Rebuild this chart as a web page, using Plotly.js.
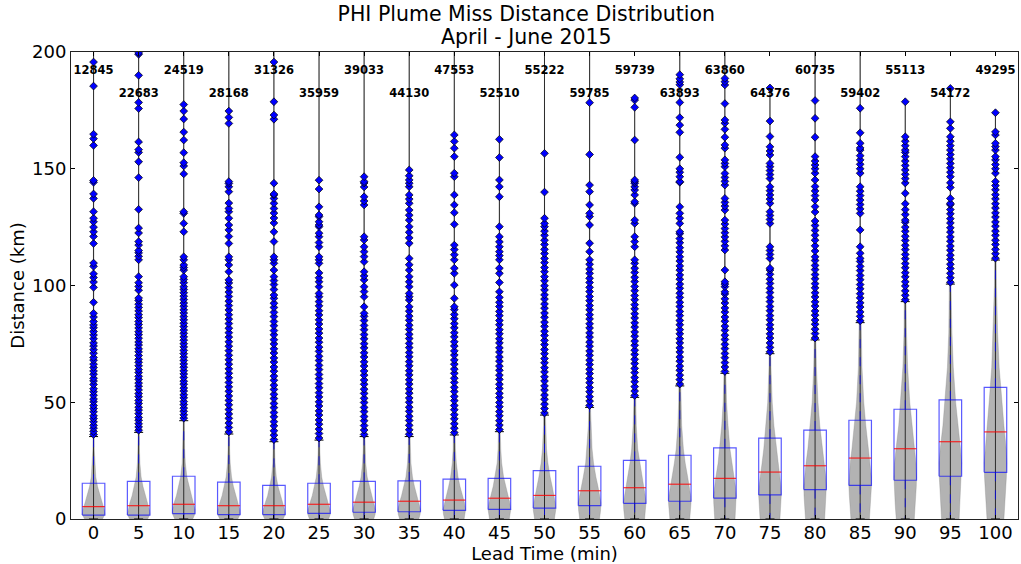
<!DOCTYPE html>
<html><head><meta charset="utf-8">
<script src="https://cdn.plot.ly/plotly-3.0.1.min.js"></script>
<style>html,body{margin:0;padding:0;background:#fff;}#chart{width:1021px;height:564px;}</style>
</head><body><div id="chart"></div>
<script>
// ---------------- DATA ----------------
const leadTimes = [0,5,10,15,20,25,30,35,40,45,50,55,60,65,70,75,80,85,90,95,100];
const sampleCounts = [12845,22683,24519,28168,31326,35959,39033,44130,47553,52510,55222,59785,59739,63893,63860,64376,60735,59402,55113,54172,49295];
const q1Values     = [1.7,1.7,2.3,1.9,1.9,2.4,2.9,3.1,3.7,4.1,4.7,5.7,6.7,7.6,8.9,10.3,12.6,14.4,16.6,18.3,20.0];
const medianValues = [5.3,5.7,6.3,5.7,5.7,6.3,7.2,7.6,8.1,8.9,10.1,12.1,13.4,14.9,17.4,20.1,22.8,26.1,30.1,33.1,37.3];
const q3Values     = [15.3,16.1,18.3,15.8,14.4,15.3,16.1,16.3,17.1,17.4,20.7,22.6,25.1,27.3,30.5,34.6,38.1,42.3,47.0,51.0,56.4];
const upperWhisker = [35.3,37.1,42.1,36.4,33.1,33.8,35.3,35.3,36.0,37.4,44.5,47.8,52.1,57.0,62.4,70.8,76.7,84.1,93.1,100.6,110.9];
const minValues    = [0,0,0,0,0,0,0,0,0,0,0,0,0,0,0,0,0,0,0,0,0];
const maxValues    = [210,210,210,210,210,210,210,210,210,210,210,210,180.5,210,210,184.6,210,210,178.7,185.0,174.0];

// violin half-width profile (fraction of full half-width) at these distances
const violinLevels = [0,2,4,7,10,14,18,24,30,40,50,65,80,100,130,170,200];
const violin0   = [0.8,1.0,0.95,0.75,0.55,0.35,0.2,0.1,0.06,0.04,0.03,0.025,0.02,0.02,0.015,0.01,0.01];
const violin5   = [0.8,1.0,0.95,0.78,0.58,0.38,0.22,0.11,0.07,0.04,0.03,0.025,0.02,0.02,0.015,0.01,0.01];
const violin10  = [0.8,0.98,1.0,0.85,0.65,0.45,0.28,0.14,0.08,0.05,0.035,0.025,0.02,0.02,0.015,0.01,0.01];
const violin15  = [0.8,1.0,0.97,0.8,0.6,0.4,0.24,0.12,0.07,0.04,0.03,0.025,0.02,0.02,0.015,0.01,0.01];
const violin20  = [0.82,1.0,0.95,0.77,0.56,0.36,0.21,0.1,0.06,0.04,0.03,0.025,0.02,0.02,0.015,0.01,0.01];
const violin25  = [0.85,1.0,0.97,0.8,0.6,0.4,0.24,0.12,0.07,0.04,0.03,0.025,0.02,0.02,0.015,0.01,0.01];
const violin30  = [0.85,0.98,1.0,0.85,0.65,0.44,0.27,0.14,0.08,0.045,0.03,0.025,0.02,0.02,0.015,0.01,0.01];
const violin35  = [0.85,0.97,1.0,0.87,0.68,0.46,0.29,0.15,0.09,0.05,0.035,0.025,0.02,0.02,0.015,0.01,0.01];
const violin40  = [0.87,0.96,1.0,0.9,0.72,0.5,0.33,0.18,0.1,0.055,0.035,0.025,0.02,0.02,0.015,0.01,0.01];
const violin45  = [0.88,0.95,1.0,0.92,0.76,0.55,0.37,0.2,0.12,0.06,0.04,0.03,0.02,0.02,0.015,0.01,0.01];
const violin50  = [0.88,0.95,1.0,0.95,0.85,0.68,0.5,0.3,0.18,0.09,0.05,0.035,0.025,0.02,0.015,0.01,0.01];
const violin55  = [0.88,0.94,0.98,1.0,0.9,0.74,0.56,0.35,0.22,0.11,0.06,0.04,0.03,0.02,0.015,0.01,0.01];
const violin60  = [0.88,0.93,0.97,1.0,0.93,0.8,0.63,0.42,0.27,0.14,0.08,0.045,0.03,0.02,0.015,0.01,0.01];
const violin65  = [0.88,0.92,0.96,1.0,0.96,0.85,0.7,0.48,0.32,0.17,0.1,0.05,0.03,0.02,0.015,0.01,0.01];
const violin70  = [0.9,0.93,0.96,0.99,1.0,0.93,0.8,0.6,0.45,0.28,0.15,0.07,0.04,0.025,0.015,0.01,0.01];
const violin75  = [0.88,0.9,0.93,0.97,1.0,0.97,0.88,0.7,0.55,0.35,0.2,0.09,0.05,0.03,0.015,0.01,0.01];
const violin80  = [0.85,0.88,0.91,0.95,0.98,1.0,0.95,0.8,0.64,0.42,0.26,0.12,0.06,0.03,0.02,0.01,0.01];
const violin85  = [0.82,0.85,0.88,0.92,0.96,1.0,0.99,0.88,0.73,0.5,0.32,0.16,0.08,0.04,0.02,0.01,0.01];
const violin90  = [0.8,0.83,0.86,0.9,0.94,0.98,1.0,0.95,0.82,0.58,0.4,0.21,0.11,0.05,0.02,0.01,0.01];
const violin95  = [0.78,0.8,0.83,0.87,0.91,0.95,0.98,1.0,0.9,0.66,0.47,0.26,0.14,0.06,0.025,0.01,0.01];
const violin100 = [0.75,0.78,0.81,0.85,0.89,0.93,0.97,1.0,0.95,0.75,0.56,0.33,0.19,0.09,0.03,0.015,0.01];

// outliers (km)
const out0 = [36.2,37.5,38.9,40.1,41.6,43.0,44.2,45.9,47.3,48.6,50.2,51.4,53.0,54.5,55.8,57.6,59.1,60.3,62.0,63.4,64.9,66.3,68.0,69.2,71.0,72.5,74.1,75.4,77.2,78.8,80.3,81.9,83.1,84.6,86.5,88.1,92.8,99.2,101.5,103.4,105.0,108.2,109.6,118.0,121.0,123.0,125.0,127.3,128.8,131.6,137.3,139.2,144.2,145.0,160.0,162.9,164.8,185.4,195.7];
const out5 = [38.0,39.4,40.8,42.3,43.5,45.1,46.6,47.9,49.5,50.8,52.4,53.7,55.3,56.9,58.2,59.8,61.1,62.7,64.0,65.6,67.1,68.4,70.0,71.6,72.9,74.5,75.8,77.4,78.9,80.2,81.8,83.3,84.6,86.2,87.5,89.1,90.6,92.0,93.6,94.6,98.0,99.6,101.2,103.8,111.0,112.5,114.0,115.0,117.3,118.8,122.5,124.6,132.6,146.2,153.0,157.0,158.2,161.5,175.8,178.4,190.0,199.0,199.6];
const out10 = [43.2,44.6,46.1,47.5,49.0,50.3,51.9,53.2,54.8,56.1,57.7,59.0,60.6,62.1,63.5,65.0,66.4,67.9,69.3,70.8,72.2,73.7,75.1,76.6,78.0,79.5,80.9,82.4,83.8,85.3,86.7,88.2,89.6,91.1,92.5,94.0,95.4,96.9,98.3,99.5,101.2,102.6,103.8,106.6,107.7,108.8,111.0,112.3,123.0,126.6,130.9,131.6,147.8,151.2,152.6,156.9,162.3,165.7,171.3,174.7,177.5];
const out15 = [37.3,39.2,41.1,43.1,45.0,46.9,48.9,50.8,52.7,54.7,56.6,58.5,60.5,62.4,64.3,66.3,68.2,70.1,72.1,74.0,75.9,77.9,79.8,81.7,83.7,85.6,87.5,89.5,91.4,93.3,95.3,97.2,99.1,101.1,102.4,105.9,108.8,111.0,112.3,118.0,121.0,123.8,125.9,128.8,131.6,133.0,135.3,140.2,142.3,143.7,144.5,169.4,172.0,174.7];
const out20 = [34.0,35.9,37.8,39.9,41.7,43.8,45.6,47.7,49.5,51.6,53.4,55.5,57.3,59.4,61.2,63.3,65.1,67.2,69.0,71.1,72.9,75.0,76.8,78.9,80.7,82.8,84.6,86.7,88.5,90.6,92.4,94.5,95.9,98.3,100.4,102.1,103.8,106.6,109.5,111.0,112.3,118.8,123.0,126.8,128.9,131.0,133.0,135.2,137.3,138.8,139.2,143.8,171.2,173.0,178.7,195.7];
const out25 = [34.7,36.6,38.5,40.6,42.4,44.5,46.3,48.4,50.2,52.3,54.1,56.2,58.0,60.1,61.9,64.0,65.8,67.9,69.7,71.8,73.6,75.7,77.5,79.6,81.4,83.5,85.3,87.4,89.2,91.3,93.1,95.2,96.6,99.5,101.6,103.3,105.4,109.5,111.0,112.3,116.6,118.4,120.9,122.4,125.2,125.9,127.3,129.5,130.2,133.7,141.3,145.1];
const out30 = [36.2,38.1,40.0,42.1,43.9,46.0,47.8,49.9,51.7,53.8,55.6,57.7,59.5,61.6,63.4,65.5,67.3,69.4,71.2,73.3,75.1,77.2,79.0,81.1,82.9,85.0,86.8,88.1,90.9,95.2,97.4,99.5,102.4,104.1,105.9,110.2,112.4,114.5,116.6,119.5,120.9,134.5,136.2,138.0,142.2,143.9,144.5,146.6];
const out35 = [36.3,38.2,40.1,42.2,44.0,46.1,47.9,50.0,51.8,53.9,55.7,57.8,59.6,61.7,63.5,65.6,67.4,69.5,71.3,73.4,75.2,77.3,79.1,81.2,83.0,85.1,86.9,89.0,90.9,93.8,95.2,96.6,99.5,101.6,103.8,106.6,108.9,111.6,118.1,120.4,122.8,125.2,128.0,130.1,132.3,135.2,137.0,138.8,142.3,143.8,145.2,147.0,149.5];
const out40 = [37.0,38.9,40.8,42.9,44.7,46.8,48.6,50.7,52.5,54.6,56.4,58.5,60.3,62.4,64.2,66.3,68.1,70.2,72.0,74.1,75.9,78.0,79.8,81.9,83.7,85.8,87.6,89.7,90.9,94.5,100.2,105.2,107.4,111.0,113.2,115.4,117.3,126.2,131.2,134.5,138.8,146.6,148.1,155.2,158.8,161.7,164.5];
const out45 = [38.3,40.2,42.1,44.2,46.0,48.1,49.9,52.0,53.8,55.9,57.7,59.8,61.6,63.7,65.5,67.6,69.4,71.5,73.3,75.4,77.2,79.3,81.1,83.2,85.0,87.1,88.9,91.0,92.8,94.9,97.3,101.3,105.2,107.4,111.0,112.8,114.5,116.6,118.7,120.9,125.2,138.0,142.3,145.2,154.8,162.6];
const out50 = [45.4,47.3,49.2,51.3,53.1,55.2,57.0,59.1,60.9,63.0,64.8,66.9,68.7,70.8,72.6,74.7,76.5,78.6,80.4,82.5,84.3,86.4,88.2,90.3,92.1,94.2,96.0,98.1,99.9,102.0,103.8,105.9,107.7,109.8,111.6,113.7,115.5,117.6,119.4,121.5,123.3,125.2,126.6,128.8,140.0,156.6];
const out55 = [48.6,50.5,52.4,54.5,56.3,58.4,60.2,62.3,64.1,66.2,68.0,70.1,71.9,74.0,75.8,77.9,79.7,81.8,83.6,85.7,87.5,89.6,91.4,93.5,95.3,97.4,99.2,101.3,103.1,105.2,107.0,109.1,111.0,114.5,118.1,125.9,129.5,130.9,134.5,140.2,143.0,156.1,178.3];
const out60 = [52.9,54.8,56.7,58.8,60.6,62.7,64.5,66.6,68.4,70.5,72.3,74.4,76.2,78.3,80.1,82.2,84.0,86.1,87.9,90.0,91.8,93.9,95.7,97.8,99.6,101.7,103.5,105.6,107.4,109.5,111.0,116.6,118.8,120.9,126.6,128.0,135.2,135.9,138.8,140.9,142.3,143.8,144.5,145.2,162.3,176.3,179.4,180.3];
const out65 = [57.8,59.7,61.6,63.7,65.5,67.6,69.4,71.5,73.3,75.4,77.2,79.3,81.1,83.2,85.0,87.1,88.9,91.0,92.8,94.9,96.7,98.8,100.6,102.7,104.5,106.6,108.4,110.5,112.3,114.4,116.2,118.3,120.1,122.2,123.0,126.6,128.8,130.9,133.7,144.2,144.5,146.6,148.5,150.0,154.9,165.6,168.7,171.9,178.4,186.0,187.2,188.5,190.3];
const out70 = [63.2,65.1,67.0,69.1,70.9,73.0,74.8,76.9,78.7,80.8,82.6,84.7,86.5,88.6,90.4,92.5,94.3,96.4,97.3,99.5,100.6,101.6,106.6,115.2,117.0,118.9,120.8,122.6,124.4,126.3,128.0,132.3,134.0,135.6,137.3,143.0,144.6,146.3,148.0,150.9,152.3,153.8,158.8,160.2,163.5,166.9,169.5,170.9,177.9,185.9,187.3,188.7];
const out75 = [71.6,73.5,75.4,77.5,79.3,81.4,83.2,85.3,87.1,89.2,91.0,93.1,94.9,97.0,98.8,100.9,102.7,104.8,106.6,107.4,111.6,113.3,115.0,116.6,126.6,128.3,130.0,131.6,135.2,137.0,138.8,140.6,142.3,145.8,147.5,149.2,150.9,152.3,155.9,157.6,159.4,163.8,170.4,184.6];
const out80 = [77.5,79.4,81.3,83.4,85.2,87.3,89.1,91.2,93.0,95.1,96.9,99.0,100.8,102.9,104.7,106.8,108.6,110.7,112.3,114.8,117.0,119.4,121.5,123.6,125.7,127.6,131.5,133.8,136.6,138.5,140.5,142.4,145.2,148.1,150.0,151.6,153.3,155.2,163.5,171.6,179.2];
const out85 = [84.9,86.8,88.7,90.8,92.6,94.7,96.5,98.6,100.4,102.5,104.3,106.4,108.2,110.3,111.6,113.8,116.6,123.8,130.9,132.8,134.7,136.6,138.5,140.4,142.3,148.1,150.0,151.9,153.8,155.6,158.0,158.9,160.9,165.4,175.9];
const out90 = [93.9,95.8,97.7,99.8,101.6,103.7,105.5,107.6,109.4,111.5,113.3,115.4,117.2,119.3,121.1,123.2,125.0,127.1,128.0,130.4,132.5,135.0,139.5,143.9,145.8,147.6,149.5,151.4,153.3,155.2,157.0,158.0,159.9,161.8,163.7,178.7];
const out95 = [101.4,103.3,105.2,107.3,109.1,111.2,113.0,115.1,116.9,119.0,120.8,122.9,124.7,126.8,128.6,130.7,132.5,134.6,135.2,137.3,142.0,144.0,146.6,148.5,150.4,152.3,154.2,156.1,158.0,159.9,161.8,163.7,167.3,170.1,184.4];
const out100 = [111.7,113.6,115.5,117.6,119.4,121.5,123.3,125.4,127.2,129.3,131.1,133.2,135.0,137.1,138.9,141.0,142.8,144.5,148.1,150.0,151.8,153.8,155.2,158.0,159.5,160.9,164.5,165.8,174.0];

const violinProfiles = [violin0,violin5,violin10,violin15,violin20,violin25,violin30,violin35,violin40,violin45,violin50,violin55,violin60,violin65,violin70,violin75,violin80,violin85,violin90,violin95,violin100];
const outlierSets = [out0,out5,out10,out15,out20,out25,out30,out35,out40,out45,out50,out55,out60,out65,out70,out75,out80,out85,out90,out95,out100];

// ---------------- DRAWING ----------------
const HALF = 1.25;      // half width of box & violin (x units)
const CAP_HALF = 0.5;
const traces = [];

// violins
leadTimes.forEach((x, i) => {
  const prof = violinProfiles[i];
  const ys = [], ws = [];
  const top = maxValues[i];
  for (let k = 0; k < violinLevels.length; k++) {
    if (violinLevels[k] < top) { ys.push(violinLevels[k]); ws.push(prof[k]); }
    else {
      const y0 = violinLevels[k-1], y1 = violinLevels[k];
      const w = prof[k-1] + (prof[k]-prof[k-1])*(top-y0)/(y1-y0);
      ys.push(top); ws.push(w*0.5); break;
    }
    if (k === violinLevels.length-1 && top > violinLevels[k]) { ys.push(top); ws.push(prof[k]*0.5); }
  }
  const px = [], py = [];
  for (let k = 0; k < ys.length; k++) { px.push(x + ws[k]*HALF); py.push(ys[k]); }
  for (let k = ys.length-1; k >= 0; k--) { px.push(x - ws[k]*HALF); py.push(ys[k]); }
  px.push(px[0]); py.push(py[0]);
  traces.push({type:'scatter', mode:'lines', x:px, y:py, fill:'toself',
    fillcolor:'rgba(128,128,128,0.6)', line:{width:0.5, color:'rgba(128,128,128,0.6)'}, hoverinfo:'skip'});
});

// extrema lines
(function(){
  const xs=[], ys=[];
  leadTimes.forEach((x,i)=>{ xs.push(x,x,null); ys.push(minValues[i], maxValues[i], null); });
  traces.push({type:'scatter', mode:'lines', x:xs, y:ys, line:{color:'rgba(20,20,20,0.85)', width:1}, hoverinfo:'skip'});
})();

// boxes
(function(){
  const xs=[], ys=[];
  leadTimes.forEach((x,i)=>{
    xs.push(x-HALF, x+HALF, x+HALF, x-HALF, x-HALF, null);
    ys.push(q1Values[i], q1Values[i], q3Values[i], q3Values[i], q1Values[i], null);
  });
  traces.push({type:'scatter', mode:'lines', x:xs, y:ys, line:{color:'rgba(0,0,255,0.65)', width:1.2}, hoverinfo:'skip'});
})();

// whiskers (dashed)
(function(){
  const xs=[], ys=[];
  leadTimes.forEach((x,i)=>{
    xs.push(x,x,null,x,x,null);
    ys.push(q3Values[i], upperWhisker[i], null, q1Values[i], minValues[i], null);
  });
  traces.push({type:'scatter', mode:'lines', x:xs, y:ys, line:{color:'rgba(0,0,255,0.7)', width:1, dash:'dash'}, hoverinfo:'skip'});
})();

// caps
(function(){
  const xs=[], ys=[];
  leadTimes.forEach((x,i)=>{
    xs.push(x-CAP_HALF, x+CAP_HALF, null, x-CAP_HALF, x+CAP_HALF, null);
    ys.push(upperWhisker[i], upperWhisker[i], null, minValues[i], minValues[i], null);
  });
  traces.push({type:'scatter', mode:'lines', x:xs, y:ys, line:{color:'#000', width:1}, hoverinfo:'skip'});
})();

// medians
(function(){
  const xs=[], ys=[];
  leadTimes.forEach((x,i)=>{ xs.push(x-HALF, x+HALF, null); ys.push(medianValues[i], medianValues[i], null); });
  traces.push({type:'scatter', mode:'lines', x:xs, y:ys, line:{color:'rgba(255,0,0,0.8)', width:1.2}, hoverinfo:'skip'});
})();

// outliers
(function(){
  const xs=[], ys=[];
  leadTimes.forEach((x,i)=>{ outlierSets[i].forEach(v=>{ xs.push(x); ys.push(v); }); });
  traces.push({type:'scatter', mode:'markers', x:xs, y:ys,
    marker:{symbol:'diamond', size:6, color:'#0000ff', line:{color:'#000', width:0.7}}, hoverinfo:'skip'});
})();

// sample counts
traces.push({type:'scatter', mode:'text', x:leadTimes,
  y:leadTimes.map((x,i)=> i%2===0 ? 191.7 : 181.8),
  text:sampleCounts.map(String), textposition:'middle center',
  textfont:{family:'DejaVu Sans', size:11.5, color:'#000', weight:'bold'}, hoverinfo:'skip', cliponaxis:false});

const axisCommon = {ticks:'inside', ticklen:4, tickwidth:1, tickcolor:'#000', showline:true, linecolor:'#222', linewidth:1,
  mirror:'ticks', showgrid:false, zeroline:false, tickfont:{family:'DejaVu Sans', size:18, color:'#000'}};

const layout = {
  width:1021, height:564, margin:{l:71, r:3, t:52, b:45},
  paper_bgcolor:'#fff', plot_bgcolor:'#fff', showlegend:false,
  font:{family:'DejaVu Sans', color:'#000'},
  title:{text:'PHI Plume Miss Distance Distribution', font:{family:'DejaVu Sans', size:20.5, color:'#000'},
    x:0.5155, xanchor:'center', y:1-14/564, yanchor:'middle'},
  annotations:[{text:'April - June 2015', xref:'paper', yref:'paper', x:0.4815, y:1+(52-37)/467,
    xanchor:'center', yanchor:'middle', showarrow:false, font:{family:'DejaVu Sans', size:20.5, color:'#000'}}],
  xaxis:Object.assign({}, axisCommon, {range:[-2.5,102.5], tickvals:leadTimes, ticktext:leadTimes.map(String),
    ticklabelstandoff:-3,
    title:{text:'Lead Time (min)', font:{family:'DejaVu Sans', size:18, color:'#000'}, standoff:0}}),
  yaxis:Object.assign({}, axisCommon, {range:[0,200], tickvals:[0,50,100,150,200],
    title:{text:'Distance (km)', font:{family:'DejaVu Sans', size:18, color:'#000'}, standoff:2}})
};

Plotly.newPlot('chart', traces, layout, {displayModeBar:false, staticPlot:true});
</script>
</body></html>
